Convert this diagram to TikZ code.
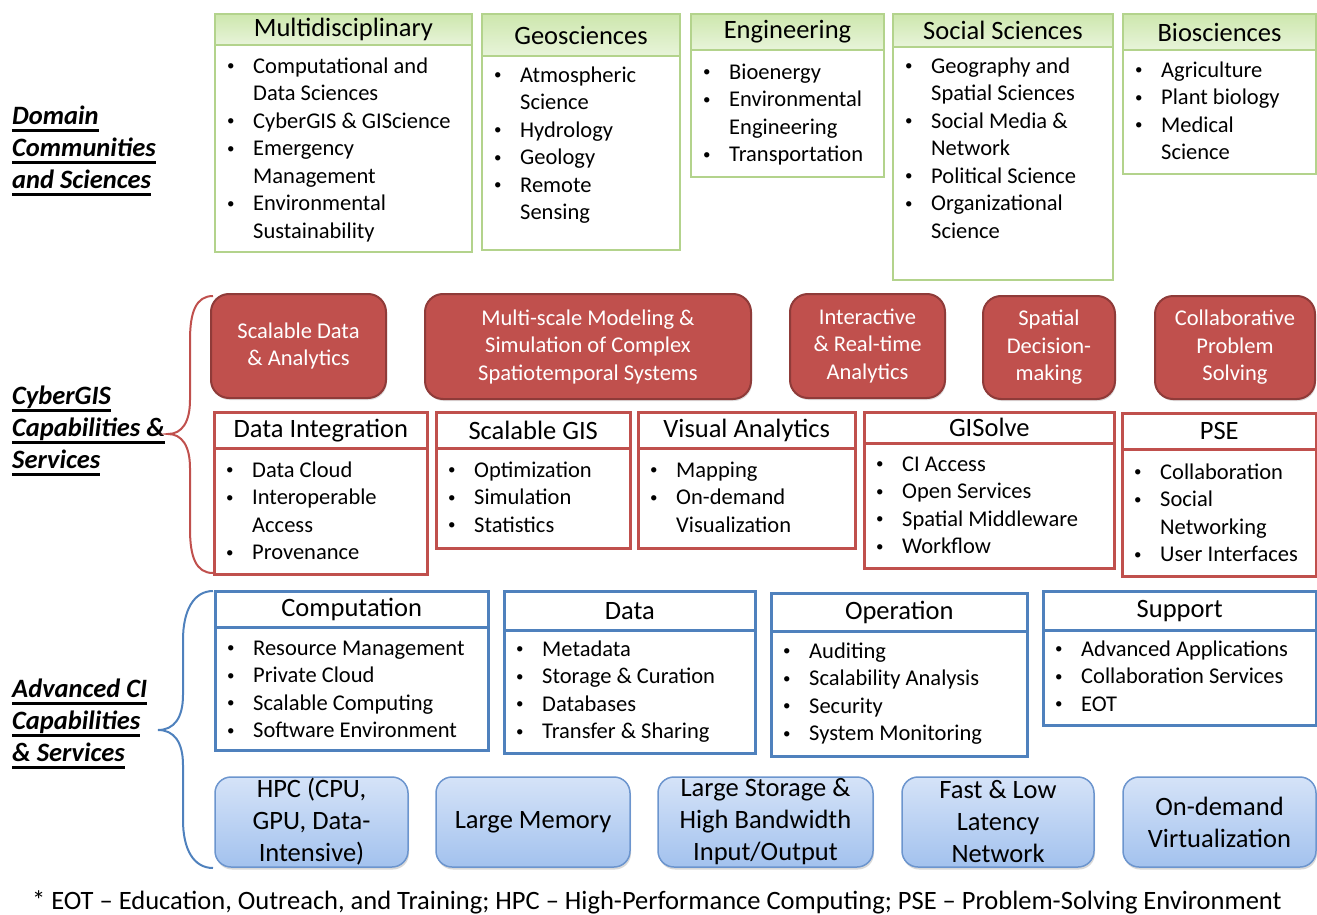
\documentclass[tikz,border=0pt]{standalone}
\usepackage{fontspec}
\setmainfont{Carlito}
\usetikzlibrary{shadows}

\definecolor{greenline}{HTML}{B3D38C}
\definecolor{greentop}{HTML}{CDE7AD}
\definecolor{greenbot}{HTML}{E8F4DA}
\definecolor{redfill}{HTML}{C0504D}
\definecolor{reddark}{HTML}{8F3B39}
\definecolor{redline}{HTML}{C0504D}
\definecolor{blueline}{HTML}{4F81BD}
\definecolor{bluetop}{HTML}{D5E3F8}
\definecolor{bluebot}{HTML}{A3C2EE}
\definecolor{blueedge}{HTML}{6C95CE}

\newcommand{\listfont}{\fontsize{22.5}{27.5}\selectfont}
\newcommand{\headfont}{\fontsize{26.5}{30}\selectfont}
\newcommand{\hwfont}{\fontsize{26.5}{32}\selectfont}
\newcommand{\layerfont}{\fontsize{26.5}{32}\selectfont\bfseries\itshape}
\newcommand{\notefont}{\fontsize{26.5}{30}\selectfont}

% bullet item, continuation line, underlined label line
\newcommand{\dotb}{\raisebox{2.5pt}{\fontsize{15}{15}\selectfont\textbullet}}
\newcommand{\itm}[1]{\rule{0pt}{16pt}\makebox[25pt][l]{\hspace*{-1pt}\dotb}#1}
\newcommand{\cnt}[1]{\rule{0pt}{16pt}\hspace*{25pt}#1}
\newlength\ulw
\newcommand{\uline}[1]{\settowidth{\ulw}{#1}\rlap{\rule[-7.8pt]{\ulw}{2.7pt}}#1}

\tikzset{
  ghead/.style={draw=greenline, line width=2pt, top color=greentop, bottom color=greenbot,
    anchor=north west, inner sep=0pt, font=\headfont},
  gbody/.style={draw=greenline, line width=2pt, fill=white, anchor=north west, inner sep=0pt},
  rhead/.style={draw=redline, line width=2.5pt, fill=white, anchor=north west, inner sep=0pt, font=\headfont},
  rbody/.style={draw=redline, line width=2.5pt, fill=white, anchor=north west, inner sep=0pt},
  bhead/.style={draw=blueline, line width=2.5pt, fill=white, anchor=north west, inner sep=0pt, font=\headfont},
  bbody/.style={draw=blueline, line width=2.5pt, fill=white, anchor=north west, inner sep=0pt},
  blist/.style={anchor=north west, inner sep=0pt, align=left, font=\listfont},
  capbox/.style={rounded corners=18pt, fill=redfill, draw=reddark, line width=2pt, text=white,
    align=center, inner sep=0pt, font=\listfont,
    drop shadow={shadow xshift=1pt, shadow yshift=-2pt, opacity=0.25}},
  hwbox/.style={rounded corners=16pt, top color=bluetop, bottom color=bluebot, draw=blueedge,
    line width=1.5pt, align=center, inner sep=0pt, font=\hwfont,
    drop shadow={shadow xshift=1pt, shadow yshift=-2.5pt, opacity=0.3}},
  layer/.style={anchor=north west, inner sep=0pt, align=left, font=\layerfont},
}

\begin{document}
\begin{tikzpicture}[x=1pt, y=-1pt]
  \useasboundingbox (0,0) rectangle (1317,915);

  % Layer labels
  \node[layer] (domain) at (12,103) {\rule{0pt}{21pt}\uline{Domain}\\ \uline{Communities}\\ \uline{and Sciences}};
  \node[layer] (cyber) at (12,383) {\rule{0pt}{21pt}\uline{CyberGIS}\\ \uline{Capabilities \&}\\ \uline{Services}};
  \node[layer] (advci) at (12,676) {\rule{0pt}{21pt}\uline{Advanced CI}\\ \uline{Capabilities}\\ \uline{\& Services}};

  % Braces
  \draw[redline, line width=2pt] (213,296) .. controls (196,296) and (190,312) .. (190,340) -- (190,400)
    .. controls (190,422) and (182,434) .. (168,434) .. controls (182,434) and (190,446) .. (190,468)
    -- (190,529) .. controls (190,557) and (196,573) .. (213,573);
  \draw[blueline, line width=2pt] (213,591) .. controls (194,591) and (183,610) .. (183,640) -- (183,695)
    .. controls (183,718) and (174,730) .. (158,730) .. controls (174,730) and (183,742) .. (183,765)
    -- (183,820) .. controls (183,850) and (194,868) .. (213,868);

  % Domain communities
  \node[gbody, minimum width=257, minimum height=207] (multib) at (214,44) {};
  \node[ghead, minimum width=257, minimum height=31] (multi) at (214,13) {Multidisciplinary};
  \node[blist] (multil) at (228,57) {\itm{Computational and}\\ \cnt{Data Sciences}\\ \itm{CyberGIS \& GIScience}\\
    \itm{Emergency}\\ \cnt{Management}\\ \itm{Environmental}\\ \cnt{Sustainability}};

  \node[gbody, minimum width=198, minimum height=194] (geob) at (481,55) {};
  \node[ghead, minimum width=198, minimum height=42] (geo) at (481,13) {Geosciences};
  \node[blist] (geol) at (495,66) {\itm{Atmospheric}\\ \cnt{Science}\\ \itm{Hydrology}\\ \itm{Geology}\\
    \itm{Remote}\\ \cnt{Sensing}};

  \node[gbody, minimum width=193, minimum height=127] (engb) at (690,49) {};
  \node[ghead, minimum width=193, minimum height=36] (eng) at (690,13) {Engineering};
  \node[blist] (engl) at (704,63) {\itm{Bioenergy}\\ \itm{Environmental}\\ \cnt{Engineering}\\ \itm{Transportation}};

  \node[gbody, minimum width=220, minimum height=233] (socb) at (892,46) {};
  \node[ghead, minimum width=220, minimum height=33] (soc) at (892,13) {Social Sciences};
  \node[blist] (socl) at (906,57) {\itm{Geography and}\\ \cnt{Spatial Sciences}\\ \itm{Social Media \&}\\
    \cnt{Network}\\ \itm{Political Science}\\ \itm{Organizational}\\ \cnt{Science}};

  \node[gbody, minimum width=193, minimum height=124] (biob) at (1122,49) {};
  \node[ghead, minimum width=193, minimum height=36] (bio) at (1122,13) {Biosciences};
  \node[blist] (biol) at (1136,61) {\itm{Agriculture}\\ \itm{Plant biology}\\ \itm{Medical}\\ \cnt{Science}};

  % CyberGIS capabilities
  \node[capbox, minimum width=175, minimum height=104] (sda) at (298.5,346) {Scalable Data\\ \& Analytics};
  \node[capbox, minimum width=326, minimum height=105] (msm) at (588,346.5) {Multi-scale Modeling \&\\
    Simulation of Complex\\ Spatiotemporal Systems};
  \node[capbox, minimum width=155, minimum height=104] (ira) at (867.5,346) {Interactive\\ \& Real-time\\ Analytics};
  \node[capbox, minimum width=132, minimum height=103] (sdm) at (1049,347.5) {Spatial\\ Decision-\\ making};
  \node[capbox, minimum width=160, minimum height=103] (cps) at (1235,347.5) {Collaborative\\ Problem\\ Solving};

  % CyberGIS services
  \node[rbody, minimum width=213, minimum height=126] (dintb) at (213,447) {};
  \node[rhead, minimum width=213, minimum height=36] (dint) at (213,411) {Data Integration};
  \node[blist] (dintl) at (227,461) {\itm{Data Cloud}\\ \itm{Interoperable}\\ \cnt{Access}\\ \itm{Provenance}};

  \node[rbody, minimum width=194, minimum height=100] (sgisb) at (435,447) {};
  \node[rhead, minimum width=194, minimum height=36] (sgis) at (435,411) {Scalable GIS};
  \node[blist] (sgisl) at (449,461) {\itm{Optimization}\\ \itm{Simulation}\\ \itm{Statistics}};

  \node[rbody, minimum width=217, minimum height=100] (visb) at (637,447) {};
  \node[rhead, minimum width=217, minimum height=36] (vis) at (637,411) {Visual Analytics};
  \node[blist] (visl) at (651,461) {\itm{Mapping}\\ \itm{On-demand}\\ \cnt{Visualization}};

  \node[rbody, minimum width=250, minimum height=125] (gisb) at (863,442) {};
  \node[rhead, minimum width=250, minimum height=31] (gis) at (863,411) {GISolve};
  \node[blist] (gisl) at (877,455) {\itm{CI Access}\\ \itm{Open Services}\\ \itm{Spatial Middleware}\\ \itm{Workflow}};

  \node[rbody, minimum width=194, minimum height=127] (pseb) at (1121,448) {};
  \node[rhead, minimum width=194, minimum height=36] (pse) at (1121,412) {PSE};
  \node[blist] (psel) at (1135,463) {\itm{Collaboration}\\ \itm{Social}\\ \cnt{Networking}\\ \itm{User Interfaces}};

  % Advanced CI services
  \node[bbody, minimum width=273, minimum height=123] (compb) at (214,626) {};
  \node[bhead, minimum width=273, minimum height=36] (comp) at (214,590) {Computation};
  \node[blist] (compl) at (228,639) {\itm{Resource Management}\\ \itm{Private Cloud}\\ \itm{Scalable Computing}\\
    \itm{Software Environment}};

  \node[bbody, minimum width=251, minimum height=123] (datab) at (503,629) {};
  \node[bhead, minimum width=251, minimum height=39] (data) at (503,590) {Data};
  \node[blist] (datal) at (517,640) {\itm{Metadata}\\ \itm{Storage \& Curation}\\ \itm{Databases}\\
    \itm{Transfer \& Sharing}};

  \node[bbody, minimum width=256, minimum height=125] (operb) at (770,630) {};
  \node[bhead, minimum width=256, minimum height=38] (oper) at (770,592) {Operation};
  \node[blist] (operl) at (784,642) {\itm{Auditing}\\ \itm{Scalability Analysis}\\ \itm{Security}\\
    \itm{System Monitoring}};

  \node[bbody, minimum width=273, minimum height=95] (suppb) at (1042,629) {};
  \node[bhead, minimum width=273, minimum height=39] (supp) at (1042,590) {Support};
  \node[blist] (suppl) at (1056,640) {\itm{Advanced Applications}\\ \itm{Collaboration Services}\\ \itm{EOT}};

  % Advanced CI resources
  \node[hwbox, minimum width=193, minimum height=90] (hpc) at (311.5,822) {HPC (CPU,\\ GPU, Data-\\ Intensive)};
  \node[hwbox, minimum width=194, minimum height=90] (mem) at (533,822) {Large Memory};
  \node[hwbox, minimum width=215, minimum height=90] (sto) at (765.5,822) {Large Storage \&\\ High Bandwidth\\ Input/Output};
  \node[hwbox, minimum width=192, minimum height=90] (net) at (998,822) {Fast \& Low\\ Latency\\ Network};
  \node[hwbox, minimum width=193, minimum height=90] (virt) at (1219.5,822) {On-demand\\ Virtualization};

  % Footnote
  \node[anchor=base west, inner sep=0pt, font=\notefont] (note) at (32,909)
    {* EOT – Education, Outreach, and Training; HPC – High-Performance Computing; PSE – Problem-Solving Environment};
\end{tikzpicture}
\end{document}
